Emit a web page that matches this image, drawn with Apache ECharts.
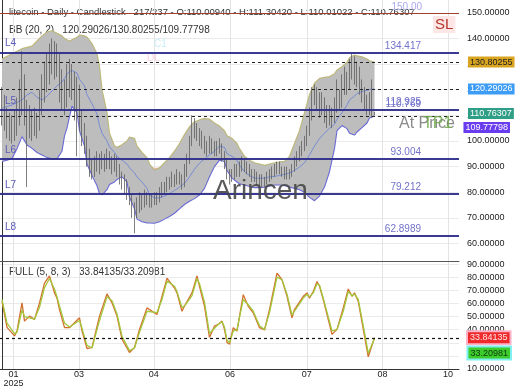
<!DOCTYPE html>
<html><head><meta charset="utf-8">
<script src="https://cdn.jsdelivr.net/npm/echarts@6/dist/echarts.min.js"></script>
<style>html,body{margin:0;padding:0;background:#fff}#c{width:520px;height:390px}</style>
</head><body><div id="c"></div>
<script>
// ---------- DATA ----------
const opens = [115,112,110,107,106,104,105,108,114,120, 113,108,110,107,109,106,112,118,124,128,
 132,134,130,133,124,118,115,122,125,123, 118,121,110,104,100,95,91,88,90,92,
 90,93,91,94,92,90,92,89,86,84, 82,80,78,73,72,74,77,76,79,78,
 77,76,78,77,80,82,81,84,83,85, 84,86,85,83,88,92,99,106,104,103,
 101,100,98,97,99,98,96,97,98,95, 92,88,86,87,89,88,90,92,91,89,
 88,86,87,85,84,85,84,86,87,88, 89,90,89,88,87,88,87,89,92,94,
 96,98,100,103,110,118,120,117,114,116, 112,109,111,108,113,118,115,120,124,122,
 127,130,126,128,121,119,116,112,116,110.0094];
const closes = [112,110,107,106,104,105,108,114,120,113, 108,110,107,109,106,112,118,124,128,132,
 134,130,133,124,118,115,122,125,123,118, 121,110,104,100,95,91,88,90,92,90,
 93,91,94,92,90,92,89,86,84,82, 80,78,73,72,74,77,76,79,78,77,
 76,78,77,80,82,81,84,83,85,84, 86,85,83,88,92,99,106,104,103,101,
 100,98,97,99,98,96,97,98,95,92, 88,86,87,89,88,90,92,91,89,88,
 86,87,85,84,85,84,86,87,88,89, 90,89,88,87,88,87,89,92,94,96,
 98,100,103,110,118,120,117,114,116,112, 109,111,108,113,118,115,120,124,122,127,
 130,126,128,121,119,116,112,116,111,110.76307];
const lows = [106,104,101,100,99,100,102,106,110,106, 82,101,100,102,101,104,110,115,119,122,
 126,124,125,115,112,110,113,117,116,108, 94,104,98,95,90,86,85,86,88,87,
 89,88,89,89,87,88,86,83,81,79, 77,75,70,64,70,72,73,74,75,74,
 74,75,75,76,78,79,80,81,82,82, 83,83,81,82,86,91,98,101,100,98,
 97,95,94,95,95,94,94,95,92,89, 85,83,84,85,86,86,88,88,87,86,
 84,84,83,82,82,82,83,84,85,86, 87,87,86,85,85,85,86,88,90,92,
 94,96,98,102,108,114,112,109,110,107, 105,106,105,107,111,112,113,118,118,120,
 124,122,121,118,115,112,110,110,109,110.01022];
const highs = [121,118,113,111,110,112,117,124,135,126, 116,114,112,113,111,120,126,131,134,138,
 140,139,138,134,128,124,130,132,130,127, 125,122,112,107,102,97,93,94,96,95,
 96,95,97,96,94,95,94,91,88,87, 85,82,79,76,78,80,79,81,80,79,
 79,80,80,82,84,84,86,86,88,87, 89,88,87,91,95,102,110,109,107,105,
 104,102,100,102,101,100,100,101,99,96, 93,89,89,91,91,92,94,93,92,91,
 89,89,88,87,87,86,88,89,90,91, 92,92,90,90,90,89,91,94,96,98,
 100,102,106,113,121,122,121,119,119,117, 114,114,113,117,124,120,126,129,127,132,
 134,133,131,129,124,121,118,119,124,111.3042];

const bbX = [0,2,4,6,8,10,12,14,16,18, 20,22,24,25,26,27,28,30,31,33, 34,36,38,39,40,42,43,45,46,48,
 50,51,53,54,56,58,59,61,63,65, 67,69,71,73,75,77,79,81,83,85, 87,89,90,92,94,95,97,99,101,103,
 105,107,109,111,113,115,117,119,121,123, 125,127,129,131,133,134,136,138,139,141, 142,144,146,147,149];
const bbUpper = [132,133,134,135,136,136.5,137,139,141,142.5, 143,142,141,140,139.5,139,139.5,140.5,141.3,141,
 140.5,138,134,129,120,111,103,98,97.5,98.5, 100,101.5,101,98,95.5,93.5,91,88.7,89.5,91.5,
 93.5,96,99,102.5,105.5,107.5,108.2,108.8,108.5,107, 105.8,104,102,101,99,97,94,92.5,91.5,91,
 90.5,91,91.5,91.8,92,94,99,104,111,118, 122.5,124.4,124.8,125.1,126.2,127.7,129,130.7,132.5,133.5,
 133.2,132.8,132,131.3,130.80255];
const bbMiddle = [112.7,113.5,114,115,116,118,119,117,116,117.5, 119.5,121.5,123,124.5,126,127,127.5,126.5,124,121.5,
 118,114.5,110.5,106,103,100,97.7,95.5,94,92.5, 91,89.5,87.5,86,84,81.5,79,77.8,77.8,78.5,
 79.5,80.7,82,83.5,86,89,91.3,93,94.5,96, 98,97.5,95,94,92.5,90.5,88,86.5,85.5,85.5,
 85.5,86,86.2,86.5,87,87.5,88.5,89.8,91.5,94.5, 98,101,103,105,106.5,108.5,111,114,116,117.5,
 118.5,119.3,119.8,120.1,120.29026];
const bbLower = [92,92.5,93.2,97,101.7,98.4,97.1,95.5,94.5,93.5, 93,93,96,102,105,109.5,113.6,111,104,98,
 91,86.5,82.5,79.5,79,81,83,84,85,86, 84,78,73.5,69.5,68.5,68,68,67.9,68.5,69.5,
 70.5,71.8,73.5,75.2,76.5,77.5,78.9,81.5,86,90, 92.5,92,88.5,85.5,84,83.3,82.8,82.2,81.8,81.8,
 82,82.3,82.8,82.8,82.5,82,81.5,81,80,78, 76.7,78.5,82,88,97,104,106,104.8,103,102.3,
 103.5,105.2,107,109,109.77798];

const stochX = [0,2,5,6,8,9,11,13,15,17, 19,21,22,23,25,27,31,32,34,36, 39,42,44,46,48,51,53,55,58,62,
 64,66,69,70,72,73,76,78,79,81, 83,85,86.5,88,89,90,91,92.5,94,96.5, 98.5,100.5,103,105,107,110,112,114,116,117,
 120.5,122,123,124.5,126,127,128.5,132,134,136.5, 138.5,140,141,142.5,145,146.5,149];
const stochK = [61.6,41.7,35.2,39,60.4,46.5,50.3,47.8,60.4,75.5, 81,68,64,55.3,41.5,41.5,49,39,25.6,26.4,
 50.3,67.2,60.4,50.3,32.7,22.6,26.4,40.2,56.6,51.5, 65.4,79.3,71.7,68,54,58,68,81,73,57.8,
 34,42.7,44,46.5,40.2,30.2,28.9,41.5,39,66.6, 57.8,52.8,41.5,39.7,55.3,83,78,65.4,49,55.3,
 65.4,68,64,69.1,76.7,73,62.9,36.4,40.2,56.6, 71,65.4,68,61.6,35.2,19.3,33.84135];
const stochD = [63,45,37,38,55,50,49,48,57,72, 79,71,65,58,45,42,47,41,28,26,
 47,65,62,52,35,24,26,38,54,53, 63,77,73,69,57,58,66,79,75,61,
 37,41,44,46,42,32,30,39,40,63, 59,54,43,40,53,80,78,67,51,54,
 64,67,65,68,75,74,64,39,40,54, 69,66,67,63,38,22,33.20981];

const priceTicks = [60,70,80,90,100,110,120,130,140,150];
const stochTicks = [10,20,30,40,50,60,70,80,90];
const dateTickPos = [4.6,30.8,60.7,91.2,121.9,152.2,178.4];
const dateTickLabels = ['01\n2025','03','04','06','07','08','10'];

const levelNames = ['L4','L5','L6','L7','L8'];
const levelValues = [134.417,112.0,93.004,79.212,62.8989];
const levelLabels = ['134.417','112.925','93.004','79.212','62.8989'];
const extraLevelLabel = '110.769';
const slValue = 150;
const slLabel = '150.00';
const bbNow = [120.29026,130.80255,109.77798]; // middle, upper, lower
const lastClose = 110.76307;
const stochNow = [33.84135,33.20981];
const zones = [
  {from:47,to:66,top:89.5,bottom:88.4,color:'rgba(255,175,200,0.9)'},
  {from:47,to:62,top:88.4,bottom:87.4,color:'rgba(150,235,195,0.9)'}
];

// ---------- CHART ----------
const FONT = '"Liberation Sans", Arial, sans-serif';
const xMin = -0.8, xMax = 182.8;
const candleData = opens.map((o,i)=>[i,o,closes[i],lows[i],highs[i]]);
const pairs = (xs,ys)=>xs.map((x,i)=>[x,ys[i]]);

const levelColor = '#2e2e8c';
const markMain = [];
markMain.push({yAxis:slValue, lineStyle:{color:'#a04030',width:1,type:'solid'},
  label:{show:true,position:'insideEndTop',distance:[37,1],formatter:slLabel,color:'#a9a9ee',fontSize:10,fontFamily:FONT}});
levelValues.forEach((v,k)=>{
  markMain.push({yAxis:v, lineStyle:{color:levelColor,width:1.5,type:'solid'},
    label:{show:true,position:'insideStartTop',distance:[5,4],formatter:levelNames[k],color:'#5a5ab8',fontSize:10,fontFamily:FONT}});
  markMain.push({yAxis:v, lineStyle:{color:levelColor,width:1.5,type:'solid'},
    label:{show:true,position:'insideEndTop',distance:[38,k===1?3:1.5],formatter:levelLabels[k],color:'#7272cc',fontSize:10,fontFamily:FONT}});
});
markMain.push({yAxis:levelValues[1], lineStyle:{color:levelColor,width:0},
  label:{show:true,position:'insideEndTop',distance:[38,1],formatter:extraLevelLabel,color:'#7272cc',fontSize:10,fontFamily:FONT,opacity:1}});
const badge = (bg,fg)=>({show:true,fontSize:9,fontFamily:FONT,backgroundColor:bg,color:fg,padding:[1,2],opacity:1});
markMain.push({yAxis:bbNow[1], lineStyle:{color:'#222',width:1,type:[3,3]},
  label:Object.assign(badge('#d9a521','#222'),{position:'end',distance:9,formatter:bbNow[1].toFixed(5)})});
markMain.push({yAxis:bbNow[0], lineStyle:{color:'#222',width:1,type:[3,3]},
  label:Object.assign(badge('#3d9cf5','#fff'),{position:'end',distance:9,formatter:bbNow[0].toFixed(5)})});
markMain.push({yAxis:bbNow[2], lineStyle:{color:'#222',width:1,type:[3,3]},
  label:Object.assign(badge('#6a3cf0','#fff'),{position:'insideEndBottom',distance:[-51,6],formatter:bbNow[2].toFixed(5)})});
markMain.push({yAxis:lastClose, lineStyle:{color:'#2f9e86',width:0},
  label:Object.assign(badge('#2f9e86','#fff'),{position:'end',distance:9,formatter:lastClose.toFixed(5)})});

const markStoch = [
  {yAxis:stochNow[1], lineStyle:{color:'#111',width:1.2,type:[3,3]}, label:{show:false}},
  {yAxis:stochNow[0], lineStyle:{width:0},
    label:Object.assign(badge('#ee2a2a','#ffe6e6'),{position:'end',distance:9,formatter:stochNow[0].toFixed(5),borderColor:'#ffb3c8',borderWidth:2})},
  {yAxis:stochNow[1], lineStyle:{width:0},
    label:Object.assign(badge('#3ccc2c','#103810'),{position:'insideEndBottom',distance:[-51,9],formatter:stochNow[1].toFixed(5),borderColor:'#80f0f0',borderWidth:2})}
];

const axisLbl = {color:'#222',fontSize:9,fontFamily:FONT};

const option = {
  animation:false,
  backgroundColor:'#fff',
  grid:[{left:0,right:61,top:0,height:261},{left:0,right:61,top:261,height:108}],
  xAxis:[
    {gridIndex:0,type:'value',min:xMin,max:xMax,
     axisLine:{show:true,onZero:false,lineStyle:{color:'#555',width:1}},
     axisTick:{show:false,customValues:dateTickPos},axisLabel:{show:false,customValues:dateTickPos},
     splitLine:{show:true,lineStyle:{color:'#e4e4e4'}}},
    {gridIndex:1,type:'value',min:xMin,max:xMax,
     axisLine:{show:true,onZero:false,lineStyle:{color:'#333',width:1}},
     axisTick:{show:false,customValues:dateTickPos},
     axisLabel:Object.assign({},axisLbl,{customValues:dateTickPos,margin:1,lineHeight:9,
       formatter:(v)=>{const k=dateTickPos.findIndex(p=>Math.abs(p-v)<1e-6);return k>=0?dateTickLabels[k]:'';}}),
     splitLine:{show:true,lineStyle:{color:'#e4e4e4'}}}
  ],
  yAxis:[
    {gridIndex:0,type:'value',position:'right',min:53.16,max:155,
     axisLine:{show:true,lineStyle:{color:'#333'}},
     axisTick:{show:false,customValues:priceTicks},
     axisLabel:Object.assign({},axisLbl,{customValues:priceTicks,margin:8,formatter:v=>v.toFixed(5)}),
     splitLine:{show:true,lineStyle:{color:'#ebebeb'}}},
    {gridIndex:1,type:'value',position:'right',min:10,max:92.3,
     axisLine:{show:true,lineStyle:{color:'#333'}},
     axisTick:{show:false,customValues:stochTicks},
     axisLabel:Object.assign({},axisLbl,{customValues:stochTicks,margin:8,formatter:v=>v.toFixed(5)}),
     splitLine:{show:true,lineStyle:{color:'#ebebeb'}}}
  ],
  graphic:[
    {type:'text',left:9,top:7,z:0,style:{text:'litecoin - Daily - Candlestick   217/237 - O:110.00940 - H:111.30420 - L:110.01022 - C:110.76307',fontSize:9.5,fontFamily:FONT,fill:'#333'}},
    {type:'text',left:9,top:25,z:0,style:{text:'BB (20, 2)   120.29026/130.80255/109.77798',fontSize:10,fontFamily:FONT,fill:'#333'}},
    {type:'text',left:9,top:267,z:0,style:{text:'FULL (5, 8, 3)   33.84135/33.20981',fontSize:10,fontFamily:FONT,fill:'#333'}},
    {type:'text',left:154,top:39,z:0,style:{text:'C1',fontSize:10,fontFamily:FONT,fill:'#c8eef9'}},
    {type:'text',left:147,top:53,z:0,style:{text:'DL',fontSize:10,fontFamily:FONT,fill:'#ffd2e4'}},
    {type:'text',left:433,top:16,z:20,style:{text:'SL',fontSize:15,fontFamily:FONT,fill:'#b5382a',backgroundColor:'#fce6e6',padding:[1,2]}},
    {type:'text',left:213,top:177,z:20,style:{text:'Arincen',fontSize:28,fontFamily:FONT,fill:'rgba(70,70,70,0.9)'}},
    {type:'text',left:399,top:116,z:20,style:{text:'At Price',fontSize:16,fontFamily:FONT,fill:'#8a8a8a'}},
    {type:'text',left:423,top:116,z:21,style:{text:'TP1',fontSize:16,fontFamily:FONT,fill:'rgba(110,170,70,0.85)'}}
  ],
  series:[
    {type:'custom',xAxisIndex:0,yAxisIndex:0,z:1,silent:true,data:[[0,100]],
     renderItem:(params,api)=>{
       const pts=[];
       for(let k=0;k<bbX.length;k++) pts.push(api.coord([bbX[k],bbUpper[k]]));
       for(let k=bbX.length-1;k>=0;k--) pts.push(api.coord([bbX[k],bbLower[k]]));
       return {type:'polygon',shape:{points:pts},style:{fill:'#bdbdbd'}};
     }},
    {type:'line',xAxisIndex:0,yAxisIndex:0,z:2,silent:true,showSymbol:false,data:pairs(bbX,bbUpper),
     lineStyle:{color:'#bdb87c',width:1.2},
     markArea:{silent:true,data:zones.map(zn=>[{xAxis:zn.from,yAxis:zn.top,itemStyle:{color:zn.color}},{xAxis:zn.to,yAxis:zn.bottom}])}},
    {type:'line',xAxisIndex:0,yAxisIndex:0,z:2,silent:true,showSymbol:false,data:pairs(bbX,bbLower),
     lineStyle:{color:'#6a6ad6',width:1.1}},
    {type:'line',xAxisIndex:0,yAxisIndex:0,z:2,silent:true,showSymbol:false,data:pairs(bbX,bbMiddle),
     lineStyle:{color:'#6f86d6',width:0.9}},
    {type:'candlestick',xAxisIndex:0,yAxisIndex:0,z:3,silent:true,barWidth:1.2,
     encode:{x:0,y:[1,2,3,4]},data:candleData,
     itemStyle:{color:'#9a9a9a',color0:'#6a6a6a',borderColor:'#5e5e5e',borderColor0:'#5e5e5e',borderWidth:0.8}},
    {type:'line',xAxisIndex:0,yAxisIndex:0,z:5,silent:true,data:[],
     markLine:{silent:true,symbol:['none','none'],data:markMain}},
    {type:'line',xAxisIndex:1,yAxisIndex:1,z:3,silent:true,showSymbol:false,data:pairs(stochX,stochK),
     lineStyle:{color:'#d2702e',width:1.3}},
    {type:'line',xAxisIndex:1,yAxisIndex:1,z:4,silent:true,showSymbol:false,data:pairs(stochX,stochD),
     lineStyle:{color:'#a3c83c',width:1.3},
     markLine:{silent:true,symbol:['none','none'],data:markStoch}}
  ]
};
const chart = echarts.init(document.getElementById('c'));
chart.setOption(option);
</script></body></html>
